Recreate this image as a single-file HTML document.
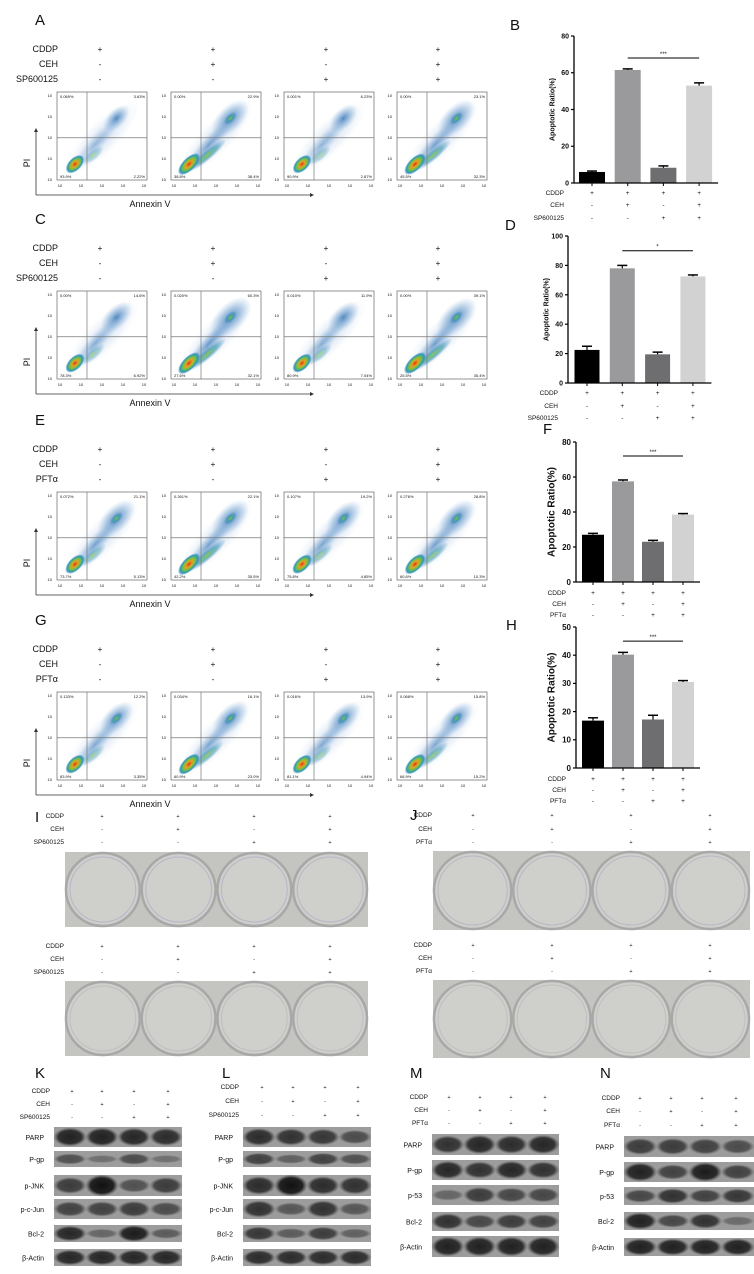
<!DOCTYPE html>
<html><head><meta charset="utf-8"><style>
body{margin:0;background:#fff;width:754px;height:1274px;overflow:hidden}
svg{display:block;font-family:"Liberation Sans",sans-serif}
</style></head><body>
<svg id="fig" width="754" height="1274" viewBox="0 0 754 1274" xmlns="http://www.w3.org/2000/svg">
<defs>
<radialGradient id="core" cx="50%" cy="50%" r="50%"><stop offset="0" stop-color="#d8301c"/><stop offset="0.3" stop-color="#e8a020"/><stop offset="0.55" stop-color="#7cc040"/><stop offset="0.8" stop-color="#2a9ab8"/><stop offset="1" stop-color="#2a6ab8" stop-opacity="0"/></radialGradient>
<radialGradient id="cloud" cx="50%" cy="50%" r="50%"><stop offset="0" stop-color="#2a70b0" stop-opacity="0.8"/><stop offset="0.55" stop-color="#5a90c8" stop-opacity="0.4"/><stop offset="1" stop-color="#7aa8d8" stop-opacity="0"/></radialGradient>
<radialGradient id="haze" cx="50%" cy="50%" r="50%"><stop offset="0" stop-color="#6a9ad0" stop-opacity="0.35"/><stop offset="1" stop-color="#9ab8e0" stop-opacity="0"/></radialGradient>
<radialGradient id="mid" cx="50%" cy="50%" r="50%"><stop offset="0" stop-color="#80c040"/><stop offset="0.5" stop-color="#3a9ab0" stop-opacity="0.8"/><stop offset="1" stop-color="#3a80c0" stop-opacity="0"/></radialGradient>
<radialGradient id="band" cx="50%" cy="50%" r="50%"><stop offset="0" stop-color="#111"/><stop offset="0.7" stop-color="#222"/><stop offset="1" stop-color="#444" stop-opacity="0"/></radialGradient>
</defs>
<g id="root"></g>
</svg>
<script>
var barCats=['g1','g2','g3','g4'];
var valsB=[6,61.5,8.3,53], errB=[0.5,0.6,1,1.5];
var valsD=[22.5,78,19.5,72.5], errD=[2.5,2,1.5,1];
var valsF=[27,57.5,23,38.5], errF=[0.8,0.8,0.8,0.6];
var valsH=[16.8,40.2,17.2,30.5], errH=[1,0.8,1.5,0.5];
var ticksB=[0,20,40,60,80], ticksD=[0,20,40,60,80,100], ticksF=[0,20,40,60,80], ticksH=[0,10,20,30,40,50];
var barColors=['#000','#9a9a9c','#6e6e70','#d2d2d2'];
var rowCDDP=['+','+','+','+'], rowCEH=['-','+','-','+'], rowInh=['-','-','+','+'];
var flowA=[['0.069%','3.63%','93.9%','2.22%'],['0.00%','22.9%','38.8%','38.4%'],['0.001%','6.23%','90.9%','2.87%'],['0.00%','23.1%','45.5%','32.3%']];
var flowC=[['0.00%','14.6%','78.3%','6.92%'],['0.020%','60.3%','27.6%','32.1%'],['0.010%','11.9%','80.9%','7.04%'],['0.00%','39.1%','25.5%','35.4%']];
var flowE=[['0.072%','21.1%','73.7%','5.13%'],['0.261%','22.1%','42.2%','35.5%'],['0.107%','19.2%','75.8%','4.85%'],['0.276%','28.8%','60.6%','10.3%']];
var flowG=[['0.133%','12.2%','83.9%','3.35%'],['0.034%','16.1%','60.9%','23.0%'],['0.016%','13.9%','81.1%','4.94%'],['0.068%','15.8%','68.9%','15.2%']];
var blotK={labels:['PARP','P-gp','p-JNK','p-c-Jun','Bcl-2','β-Actin'],ys:[1127,1151,1175,1199,1225,1249],hs:[20,16,21,20,17,17],v:[[0.85,0.85,0.8,0.75],[0.4,0.1,0.45,0.1],[0.6,1,0.4,0.6],[0.55,0.55,0.6,0.45],[0.8,0.2,0.9,0.3],[0.8,0.8,0.8,0.8]]};
var blotL={labels:['PARP','P-gp','p-JNK','p-c-Jun','Bcl-2','β-Actin'],ys:[1127,1151,1175,1199,1225,1249],hs:[20,16,21,20,17,17],v:[[0.75,0.7,0.65,0.45],[0.55,0.25,0.55,0.4],[0.75,1,0.75,0.7],[0.7,0.35,0.7,0.35],[0.65,0.3,0.6,0.25],[0.75,0.75,0.75,0.75]]};
var blotM={labels:['PARP','P-gp','p-53','Bcl-2','β-Actin'],ys:[1134,1160,1185,1212,1236],hs:[21,20,20,19,21],v:[[0.7,0.8,0.75,0.8],[0.8,0.7,0.8,0.7],[0.2,0.6,0.5,0.5],[0.7,0.5,0.6,0.55],[0.85,0.85,0.85,0.85]]};
var blotN={labels:['PARP','P-gp','p-53','Bcl-2','β-Actin'],ys:[1136,1162,1187,1212,1238],hs:[21,20,18,18,18],v:[[0.6,0.6,0.55,0.45],[0.85,0.55,0.9,0.55],[0.5,0.7,0.55,0.65],[0.85,0.5,0.7,0.15],[0.85,0.85,0.85,0.85]]};

var NS='http://www.w3.org/2000/svg', root=document.getElementById('root');
function mk(tag,at,parent,txt){var e=document.createElementNS(NS,tag);for(var k in at)e.setAttribute(k,at[k]);if(txt!=null)e.textContent=txt;(parent||root).appendChild(e);return e;}
function txt(x,y,s,size,anchor,parent,extra){var a={x:x,y:y,'font-size':size,'text-anchor':anchor||'start',fill:'#111'};if(extra)for(var k in extra)a[k]=extra[k];return mk('text',a,parent,s);}
function letter(L,x,y){var t=txt(x,y,L,15,'start');}

function treat(names,ys,labelX,xs,size,name){
  var g=mk('g',{});
  var rows=[rowCDDP,rowCEH,rowInh];
  for(var r=0;r<3;r++){txt(labelX,ys[r],names[r],size,'end',g);for(var i=0;i<4;i++)txt(xs[i],ys[r],rows[r][i],size-1,'middle',g);}
}
function rot(cx,cy,a){return 'rotate('+a+' '+cx+' '+cy+')';}

function flowPanel(off,labels,letterL,inh,dens){
  letter(letterL,35,off+25);
  treat(['CDDP','CEH',inh],[off+52,off+67,off+82],58,[100,213,326,438],9,'treatment-table-'+letterL.toLowerCase());
  var bx=[57,171,284,397];
  for(var p=0;p<4;p++){
    var g=mk('g',{});
    var x0=bx[p],y0=off+92,w=90,h=88;
    var cl=mk('clipPath',{id:'c'+letterL+p},g);mk('rect',{x:x0,y:y0,width:w,height:h},cl);
    var inner=mk('g',{'clip-path':'url(#c'+letterL+p+')'},g);
    var d=dens[p];
    var ux=x0+w*0.66,uy=y0+h*0.3;
    mk('ellipse',{cx:x0+w*0.5,cy:y0+h*0.52,rx:50,ry:16,fill:'url(#haze)',transform:rot(x0+w*0.5,y0+h*0.52,-45)},inner);
    mk('ellipse',{cx:ux,cy:uy,rx:14+d[1]*12,ry:8+d[1]*6,fill:'url(#cloud)',transform:rot(ux,uy,-45)},inner);
    mk('ellipse',{cx:x0+w*0.42,cy:y0+h*0.6,rx:36,ry:8,fill:'url(#cloud)',opacity:0.4+d[1]*0.4,transform:rot(x0+w*0.42,y0+h*0.6,-48)},inner);
    if(d[1]>0.5)mk('ellipse',{cx:ux,cy:uy,rx:8,ry:4,fill:'url(#mid)',transform:rot(ux,uy,-45)},inner);
    mk('ellipse',{cx:x0+w*0.4,cy:y0+h*0.72,rx:12+d[2]*16,ry:5,fill:'url(#mid)',opacity:0.4+d[2]*0.6,transform:rot(x0+w*0.4,y0+h*0.72,-40)},inner);
    mk('ellipse',{cx:x0+w*0.2,cy:y0+h*0.82,rx:11+d[2]*4,ry:6.5,fill:'url(#core)',transform:rot(x0+w*0.2,y0+h*0.82,-45)},inner);
    mk('rect',{x:x0,y:y0,width:w,height:h,fill:'none',stroke:'#666','stroke-width':0.7},g);
    mk('line',{x1:x0+w/3,y1:y0,x2:x0+w/3,y2:y0+h,stroke:'#777','stroke-width':0.7},g);
    mk('line',{x1:x0,y1:y0+h*0.52,x2:x0+w,y2:y0+h*0.52,stroke:'#777','stroke-width':0.7},g);
    var L=labels[p];
    txt(x0+3,y0+6,L[0],4,'start',g);txt(x0+w-2,y0+6,L[1],4,'end',g);txt(x0+3,y0+h-2,L[2],4,'start',g);txt(x0+w-2,y0+h-2,L[3],4,'end',g);
    for(var t=0;t<5;t++){txt(x0+3+t*(w-6)/4,y0+h+7,'10',4,'middle',g);txt(x0-5,y0+h-t*(h-4)/4+1,'10',4,'end',g);}
  }
  var ax=mk('g',{});
  mk('line',{x1:36,y1:off+195,x2:310,y2:off+195,stroke:'#333','stroke-width':0.8},ax);
  mk('path',{d:'M310 '+(off+193)+' L314 '+(off+195)+' L310 '+(off+197)+'Z',fill:'#333'},ax);
  mk('line',{x1:36,y1:off+195,x2:36,y2:off+132,stroke:'#333','stroke-width':0.8},ax);
  mk('path',{d:'M34 '+(off+132)+' L36 '+(off+128)+' L38 '+(off+132)+'Z',fill:'#333'},ax);
  txt(150,off+207,'Annexin V',9,'middle',ax);
  txt(27,off+166,'PI',9,'middle',ax,{transform:'rotate(-90 27 '+(off+163)+')'});
}
flowPanel(0,flowA,'A','SP600125',[[0,0.2,0.1],[0,0.8,0.8],[0,0.3,0.1],[0,0.8,0.7]]);
flowPanel(199,flowC,'C','SP600125',[[0,0.5,0.2],[0,1,0.8],[0,0.5,0.2],[0,0.9,0.8]]);
flowPanel(400,flowE,'E','PFTα',[[0,0.8,0.3],[0,0.8,0.8],[0,0.7,0.3],[0,0.8,0.5]]);
flowPanel(600,flowG,'G','PFTα',[[0,0.6,0.2],[0,0.7,0.6],[0,0.6,0.2],[0,0.6,0.5]]);

function barChart(o){
  var g=mk('g',{});
  var max=o.ticks[o.ticks.length-1];
  function y(v){return o.y0-(o.y0-o.yTop)*v/max;}
  function x(i){return o.x0+o.first+i*o.step;}
  for(var i=0;i<o.vals.length;i++){
    var b=mk('rect',{x:x(i)-o.bw/2,y:y(o.vals[i]),width:o.bw,height:o.y0-y(o.vals[i]),fill:barColors[i]},g);
    
    var ye=y(o.vals[i]+o.err[i]);
    mk('line',{x1:x(i),y1:y(o.vals[i]),x2:x(i),y2:ye,stroke:'#000','stroke-width':1.2},g);
    mk('line',{x1:x(i)-5,y1:ye,x2:x(i)+5,y2:ye,stroke:'#000','stroke-width':1.5},g);
  }
  var ax=mk('g',{},g);
  mk('line',{x1:o.x0,y1:o.y0,x2:o.x0,y2:o.yTop,stroke:'#000','stroke-width':1.3},ax);
  mk('line',{x1:o.x0,y1:o.y0,x2:x(3)+o.bw/2+6,y2:o.y0,stroke:'#000','stroke-width':1.3},g);
  for(var t=0;t<o.ticks.length;t++){var ty=y(o.ticks[t]);mk('line',{x1:o.x0-3,y1:ty,x2:o.x0,y2:ty,stroke:'#000','stroke-width':1.2},ax);txt(o.x0-5,ty+o.fs*0.35,String(o.ticks[t]),o.fs,'end',ax,{'font-weight':'bold'});}
  for(var i=0;i<4;i++)mk('line',{x1:x(i),y1:o.y0,x2:x(i),y2:o.y0+3,stroke:'#000'},g);
  var mx=o.x0-o.fs*2.2-4,my=(o.y0+o.yTop)/2;
  txt(mx,my,'Apoptotic Ratio(%)',o.tfs,'middle',g,{'font-weight':'bold',transform:'rotate(-90 '+mx+' '+my+')'});
  var sy=y(o.sig);mk('line',{x1:x(1),y1:sy,x2:x(3),y2:sy,stroke:'#000','stroke-width':1},g);
  txt((x(1)+x(3))/2,sy-2,o.star,6,'middle',g);
  var rows=[rowCDDP,rowCEH,rowInh],names=['CDDP','CEH',o.inh];
  for(var r=0;r<3;r++){txt(o.x0-10,o.ry[r],names[r],6.5,'end',g);for(var i=0;i<4;i++)txt(x(i),o.ry[r],rows[r][i],6.5,'middle',g);}
}
letter('B',510,30);letter('D',505,230);letter('F',543,434);letter('H',506,630);
barChart({id:'b',vals:valsB,err:errB,ticks:ticksB,x0:574,y0:183,yTop:36,first:18,step:35.7,bw:26,fs:7,tfs:7,sig:68,star:'***',inh:'SP600125',ry:[195,207,220]});
barChart({id:'d',vals:valsD,err:errD,ticks:ticksD,x0:568,y0:383,yTop:236,first:19,step:35.3,bw:25,fs:7,tfs:7,sig:90,star:'*',inh:'SP600125',ry:[395,408,420]});
barChart({id:'f',vals:valsF,err:errF,ticks:ticksF,x0:576,y0:582,yTop:442,first:17,step:30,bw:22,fs:8,tfs:10,sig:72,star:'***',inh:'PFTα',ry:[595,606,617]});
barChart({id:'h',vals:valsH,err:errH,ticks:ticksH,x0:576,y0:768,yTop:627,first:17,step:30,bw:22,fs:8,tfs:10,sig:45,star:'***',inh:'PFTα',ry:[781,792,803]});

function plates(id,x0,x1,y0,y1,tint){
  var g=mk('g',{});
  mk('rect',{x:x0,y:y0,width:x1-x0,height:y1-y0,fill:'#c4c4c0'},g);
  var w=(x1-x0)/4;
  for(var i=0;i<4;i++){
    mk('ellipse',{cx:x0+w*(i+0.5),cy:(y0+y1)/2,rx:w/2-1,ry:(y1-y0)/2-1,fill:'#cfcfcb',stroke:'#a8a8a8','stroke-width':2.5},g);
    mk('ellipse',{cx:x0+w*(i+0.5),cy:(y0+y1)/2,rx:w/2-5,ry:(y1-y0)/2-5,fill:'none',stroke:tint,'stroke-width':1,opacity:0.6},g);
  }
}
letter('I',35,822);letter('J',410,820);
treat(['CDDP','CEH','SP600125'],[818,831,844],64,[102,178,254,330],6.5,'treatment-table-i1');
plates('i1',65,368,852,927,'#a8a4c8');
treat(['CDDP','CEH','SP600125'],[948,961,974],64,[102,178,254,330],6.5,'treatment-table-i2');
plates('i2',65,368,981,1056,'#b4b4bc');
treat(['CDDP','CEH','PFTα'],[817,831,844],432,[473,552,631,710],6.5,'treatment-table-j1');
plates('j1',433,750,851,930,'#a8a8c4');
treat(['CDDP','CEH','PFTα'],[947,960,973],432,[473,552,631,710],6.5,'treatment-table-j2');
plates('j2',433,750,980,1058,'#b4b4bc');

function blot(id,b,x0,x1,labX,ry,inh,xs){
  letter(id.toUpperCase(),id=='k'?35:id=='l'?222:id=='m'?410:600,1078);
  treat(['CDDP','CEH',inh],ry,labX,xs,6.5,'treatment-table-'+id);
  var g=mk('g',{});
  var w=(x1-x0)/4;
  for(var r=0;r<b.labels.length;r++){
    var y=b.ys[r],h=b.hs[r];
    mk('rect',{x:x0,y:y,width:x1-x0,height:h,fill:'#9c9c9c'},g);
    for(var i=0;i<4;i++){var v=b.v[r][i];
      mk('ellipse',{cx:x0+w*(i+0.5),cy:y+h/2,rx:w*0.52,ry:h*(0.22+0.3*v),fill:'url(#band)',opacity:0.25+0.75*v},g);}
    txt(labX-6,y+h/2+3,b.labels[r],7,'end',g);
  }
}
blot('k',blotK,54,182,50,[1093,1106,1119],'SP600125',[72,102,134,168]);
blot('l',blotL,243,371,239,[1089,1103,1117],'SP600125',[262,293,325,358]);
blot('m',blotM,432,559,428,[1099,1112,1125],'PFTα',[449,480,511,545]);
blot('n',blotN,624,754,620,[1100,1113,1127],'PFTα',[640,671,702,736]);
</script>
</body></html>
